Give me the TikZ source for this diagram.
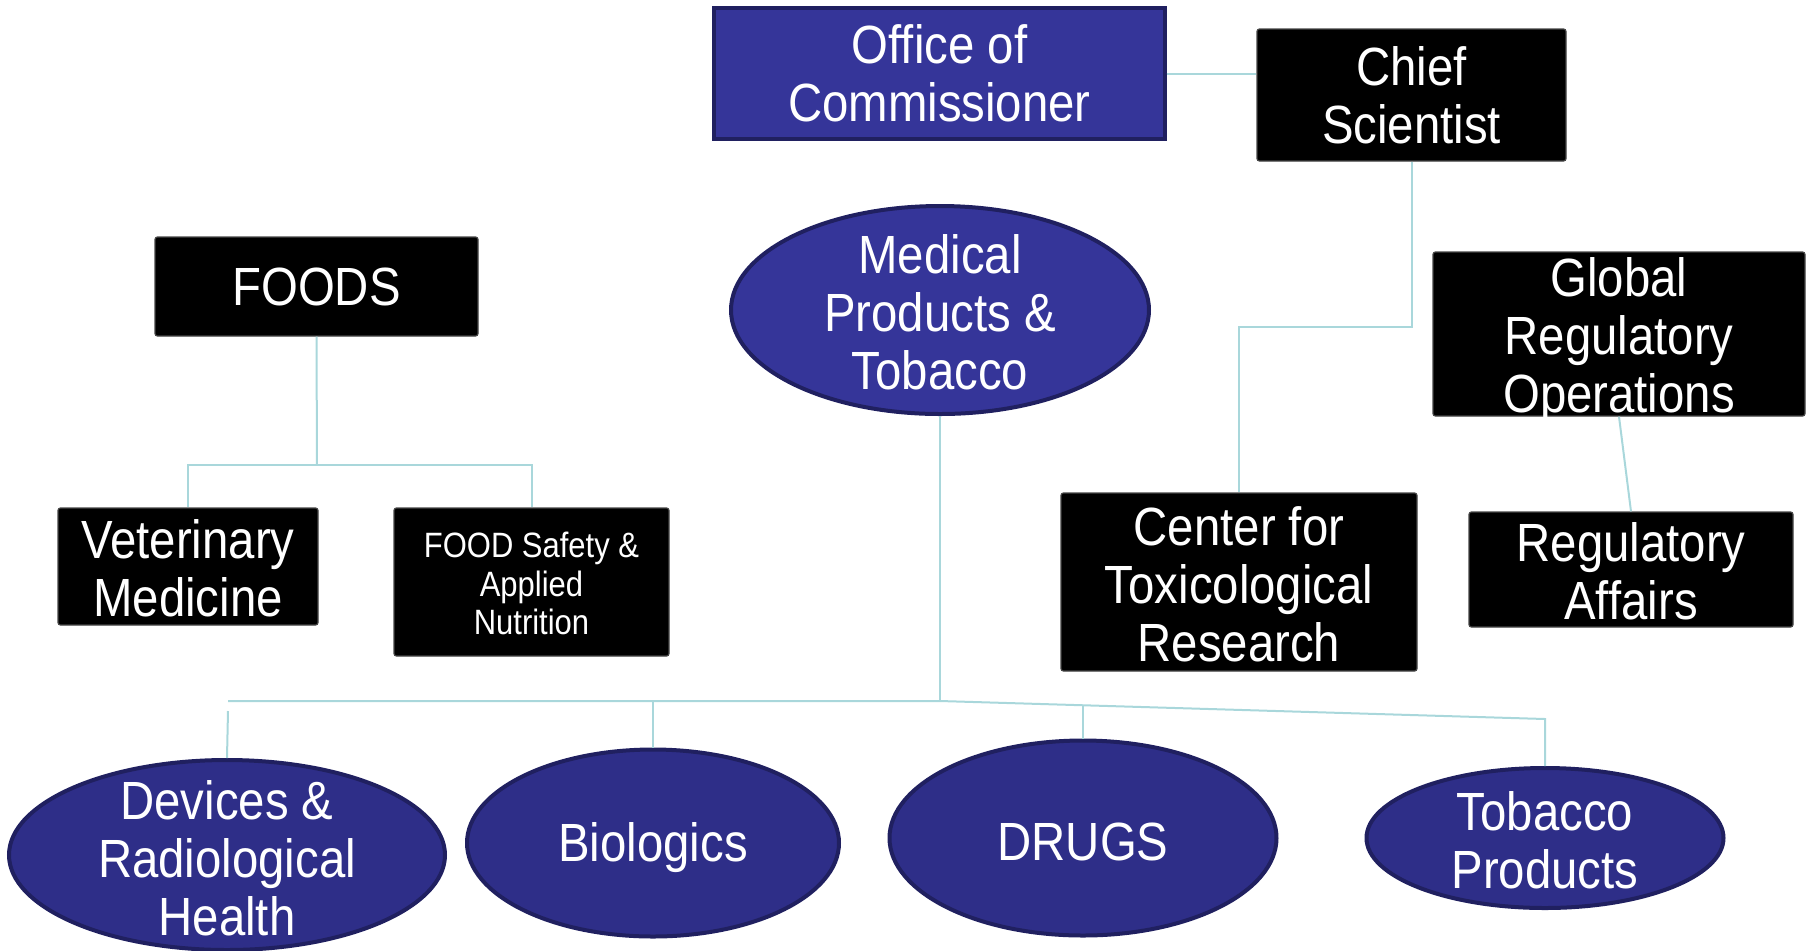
\documentclass[tikz,border=0pt]{standalone}
\usepackage{fontspec}
\setmainfont[FakeStretch=0.88]{Liberation Sans}
\usetikzlibrary{shapes.geometric}
\definecolor{linkc}{RGB}{169,215,219}
\definecolor{blueA}{RGB}{53,53,153}
\definecolor{blueB}{RGB}{46,46,136}
\definecolor{blueEdge}{RGB}{32,32,96}
\definecolor{boxEdge}{RGB}{70,70,70}
\begin{document}
\begin{tikzpicture}[x=0.5pt,y=-0.5pt,
  blackbox/.style={rectangle, fill=black, draw=boxEdge, line width=0.6pt,
    rounded corners=1.2pt, inner sep=0pt},
  bluebox/.style={rectangle, fill=blueA, draw=blueEdge, line width=1.6pt, inner sep=0pt},
  oval/.style={ellipse, fill=blueB, draw=blueEdge, line width=2pt, inner sep=0pt},
  ovalA/.style={oval, fill=blueA},
  txt/.style={text=white, align=center, inner sep=0pt,
    font=\fontsize{26.9}{29}\selectfont},
  smalltxt/.style={txt, font=\fontsize{17.6}{19.4}\selectfont},
  link/.style={draw=linkc, line width=1pt}]
\useasboundingbox (0,0) rectangle (1812,950);

% top level
\node[bluebox, minimum width=225.5pt, minimum height=65.5pt] (office) at (939.5,73.5) {};
\node[txt] at (office) {Office of\\Commissioner};
\node[blackbox, minimum width=154.5pt, minimum height=66pt] (chief) at (1411.5,95) {};
\node[txt] at (chief) {Chief\\Scientist};

% second level
\node[blackbox, minimum width=161.5pt, minimum height=49.5pt] (foods) at (316.5,286.5) {};
\node[txt] at (foods) {FOODS};
\node[ovalA, minimum width=209pt, minimum height=104pt] (mpt) at (940,310) {};
\node[txt] at (940,312) {Medical\\Products \&\\Tobacco};
\node[blackbox, minimum width=186pt, minimum height=82pt] (gro) at (1619,334) {};
\node[txt] at (1619,341) {Global\\Regulatory\\Operations};

% centres and offices
\node[blackbox, minimum width=130pt, minimum height=58.5pt] (vet) at (188,566.5) {};
\node[txt] at (188,568) {Veterinary\\Medicine};
\node[blackbox, minimum width=137.5pt, minimum height=74pt] (fsan) at (531.5,582) {};
\node[smalltxt] at (531.5,583.5) {FOOD Safety \&\\Applied\\Nutrition};
\node[blackbox, minimum width=178pt, minimum height=89pt] (ctr) at (1239,582) {};
\node[txt] at (1239,584) {Center for\\Toxicological\\Research};
\node[blackbox, minimum width=162pt, minimum height=57.5pt] (ra) at (1631,569.5) {};
\node[txt] at (1631,571) {Regulatory\\Affairs};

% medical product centres
\node[oval, minimum width=218pt, minimum height=95pt] (devices) at (227,855) {};
\node[txt] at (227,858) {Devices \&\\Radiological\\Health};
\node[oval, minimum width=186pt, minimum height=93.5pt] (bio) at (653,843) {};
\node[txt] at (653,848) {Biologics};
\node[oval, minimum width=193.5pt, minimum height=97.5pt] (drugs) at (1083,838) {};
\node[txt] at (1083,842) {DRUGS};
\node[oval, minimum width=178.5pt, minimum height=70pt] (tob) at (1545,838) {};
\node[txt] at (1545,840) {Tobacco\\Products};

% connectors
\draw[link] (office.east) -- (office.east -| chief.west);
\draw[link] (chief.south) |- (ctr.north |- 0,327) -- (ctr.north);
\draw[link] (foods.south) -- (317,465);
\draw[link] (vet.north) |- (fsan.north |- 0,465) -- (fsan.north);
\draw[link] (gro.south) -- (ra.north);

\coordinate (hubL) at (228,701);
\coordinate (hub) at (940,701);
\coordinate (hubR) at (1545,719);
\draw[link] (mpt.south) -- (hub);
\draw[link] (hubL) -- (hub) -- (hubR) -- (tob.north);
\draw[link] (228,711) -- (devices.north);
\draw[link] (bio.north |- hub) -- (bio.north);
\draw[link] (1083,705) -- (drugs.north);
\end{tikzpicture}
\end{document}
